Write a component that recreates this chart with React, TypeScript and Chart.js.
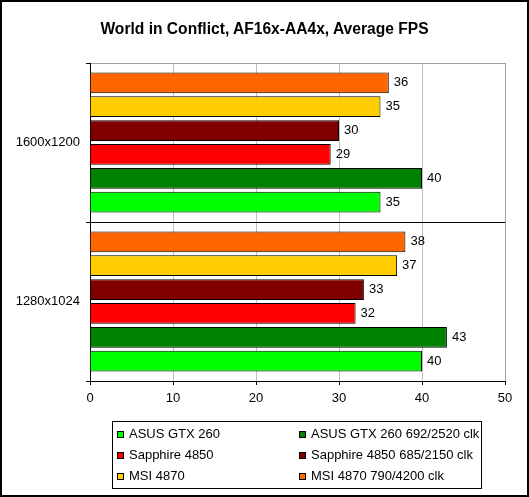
import React, { useEffect, useRef } from "react";
import { Chart, registerables } from "chart.js";

Chart.register(...registerables);

const categories = ["1600x1200", "1280x1024"];
const asusGtx260 = [35, 40];
const asusGtx260Oc = [40, 43];
const sapphire4850 = [29, 32];
const sapphire4850Oc = [30, 33];
const msi4870 = [35, 37];
const msi4870Oc = [36, 38];
const xTicks = [0, 10, 20, 30, 40, 50];

const seriesNames = [
  "ASUS GTX 260",
  "ASUS GTX 260 692/2520 clk",
  "Sapphire 4850",
  "Sapphire 4850 685/2150 clk",
  "MSI 4870",
  "MSI 4870 790/4200 clk",
];
const seriesColors = ["#00ff00", "#008000", "#ff0000", "#800000", "#ffcc00", "#ff6600"];
const seriesData = [asusGtx260, asusGtx260Oc, sapphire4850, sapphire4850Oc, msi4870, msi4870Oc];

const FONT = "Arial, 'Liberation Sans', sans-serif";

const valueLabels = {
  id: "valueLabels",
  afterDatasetsDraw(chart: any) {
    const ctx = chart.ctx;
    ctx.save();
    ctx.font = `13px ${FONT}`;
    ctx.fillStyle = "#000";
    ctx.textAlign = "left";
    ctx.textBaseline = "middle";
    chart.data.datasets.forEach((ds: any, i: number) => {
      const meta = chart.getDatasetMeta(i);
      meta.data.forEach((el: any, j: number) => {
        ctx.fillText(String(ds.data[j]), el.x + 5, el.y);
      });
    });
    ctx.restore();
  },
};

export default function App() {
  const canvasRef = useRef<HTMLCanvasElement | null>(null);

  useEffect(() => {
    if (!canvasRef.current) return;
    // draw order top to bottom within each category: reverse of legend order
    const order = [5, 4, 3, 2, 1, 0];
    const chart = new Chart(canvasRef.current, {
      type: "bar",
      data: {
        labels: categories,
        datasets: order.map((k) => ({
          label: seriesNames[k],
          data: seriesData[k],
          backgroundColor: seriesColors[k],
          borderColor: "#000",
          borderWidth: 1,
          categoryPercentage: 0.9,
          barPercentage: 0.87,
        })),
      },
      options: {
        indexAxis: "y",
        animation: false,
        responsive: false,
        layout: { padding: { left: 0, top: 63, right: 24, bottom: 86 } },
        plugins: {
          legend: { display: false },
          title: { display: false },
          tooltip: { enabled: false },
        },
        scales: {
          x: {
            type: "linear",
            min: 0,
            max: 50,
            afterBuildTicks: (s: any) => {
              s.ticks = xTicks.map((v) => ({ value: v }));
            },
            ticks: { color: "#000", font: { family: FONT, size: 13 }, padding: 6 },
            grid: {
              color: (c: any) => (c.tick && c.tick.value === 50 ? "#a0a0a0" : "#c0c0c0"),
              tickColor: "#000",
              tickLength: 4,
            },
            border: { color: "#000", width: 1 },
            afterFit: (s: any) => {
              s.height = 30;
            },
          },
          y: {
            type: "category",
            ticks: { color: "#000", font: { family: FONT, size: 13 }, padding: 6 },
            grid: {
              offset: true,
              color: (c: any) => (c.index === 0 ? "#a0a0a0" : "#000"),
              tickColor: "#000",
              tickLength: 4,
            },
            border: { color: "#000", width: 1 },
            afterFit: (s: any) => {
              s.width = 90;
            },
          },
        },
      } as any,
      plugins: [valueLabels],
    });
    return () => chart.destroy();
  }, []);

  const legendCols = [117, 299];
  const legendRows = [434, 455, 476];

  return (
    <div
      style={{
        position: "absolute",
        left: 0,
        top: 0,
        width: 529,
        height: 497,
        background: "#fff",
        fontFamily: FONT,
      }}
    >
      <canvas
        ref={canvasRef}
        width={529}
        height={497}
        style={{ position: "absolute", left: 0, top: 0, width: 529, height: 497 }}
      />
      <div
        style={{
          position: "absolute",
          left: 0,
          top: 19,
          width: 529,
          textAlign: "center",
          fontWeight: "bold",
          fontSize: 15.6,
          lineHeight: "20px",
          color: "#000",
        }}
      >
        World in Conflict, AF16x-AA4x, Average FPS
      </div>
      <div
        style={{
          position: "absolute",
          left: 112,
          top: 421,
          width: 370,
          height: 68,
          boxSizing: "border-box",
          border: "1px solid #000",
        }}
      />
      {seriesNames.map((name, i) => {
        const col = i % 2;
        const row = Math.floor(i / 2);
        return (
          <div
            key={name}
            style={{
              position: "absolute",
              left: legendCols[col],
              top: legendRows[row] - 8,
              height: 16,
              display: "flex",
              alignItems: "center",
              fontSize: 13,
              lineHeight: "16px",
              color: "#000",
              whiteSpace: "nowrap",
            }}
          >
            <span
              style={{
                display: "inline-block",
                width: 7,
                height: 7,
                boxSizing: "border-box",
                border: "1px solid #000",
                background: seriesColors[i],
                marginRight: 5,
              }}
            />
            <span>{name}</span>
          </div>
        );
      })}
      <div
        style={{
          position: "absolute",
          left: 0,
          top: 0,
          width: 529,
          height: 497,
          boxSizing: "border-box",
          border: "2px solid #000",
          pointerEvents: "none",
        }}
      />
    </div>
  );
}
